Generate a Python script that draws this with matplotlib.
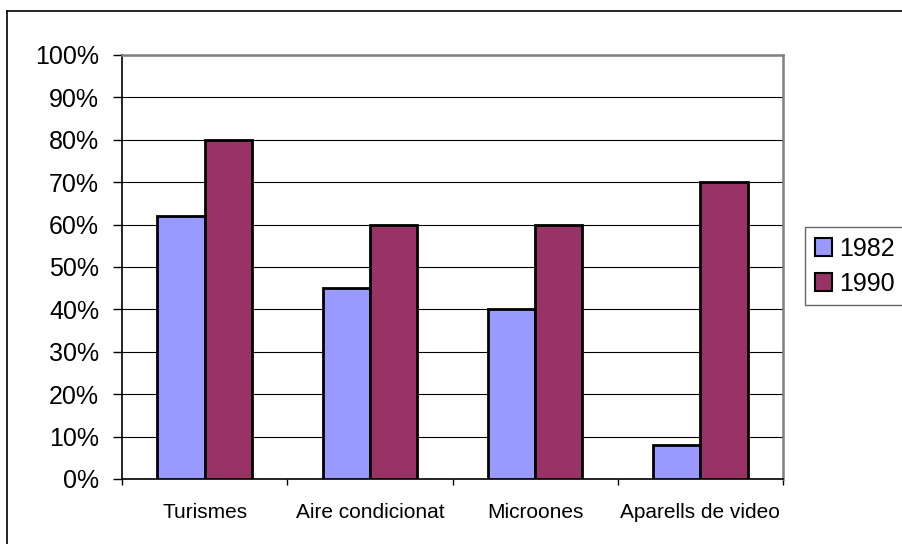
import numpy as np
import matplotlib.pyplot as plt
from matplotlib.lines import Line2D

plt.rcParams['font.family'] = ['Liberation Sans', 'DejaVu Sans']

categories = ["Turismes", "Aire condicionat", "Microones", "Aparells de video"]
years = ["1982", "1990"]
values_1982 = [62, 45, 40, 8]
values_1990 = [80, 60, 60, 70]
colors = ["#9999FF", "#993366"]

fig = plt.figure(figsize=(9.02, 5.44), dpi=100)
ax = fig.add_axes([122 / 902, 65 / 544, 661 / 902, 424 / 544])

x = np.arange(len(categories))
width = 1 / 3.5
ax.bar(x - width / 2, values_1982, width, color=colors[0], edgecolor="black",
       linewidth=2.0, label=years[0], zorder=3)
ax.bar(x + width / 2, values_1990, width, color=colors[1], edgecolor="black",
       linewidth=2.0, label=years[1], zorder=3)

ax.set_xlim(-0.5, len(categories) - 0.5)
ax.set_ylim(0, 100)
ax.set_yticks(np.arange(0, 101, 10))
ax.set_yticklabels([f"{v}%" for v in range(0, 101, 10)], fontsize=18)
ax.yaxis.grid(True, color="black", linewidth=0.8, zorder=0)

ax.set_xticks(x)
ax.set_xticklabels(categories, fontsize=15)
ax.set_xticks(np.arange(-0.5, len(categories), 1), minor=True)
ax.tick_params(axis="x", which="major", length=0, pad=17)
ax.tick_params(axis="x", which="minor", length=4.5, width=1, direction="out")
ax.tick_params(axis="y", length=6.5, width=1, pad=10)

for side in ["left", "bottom"]:
    ax.spines[side].set_color("black")
    ax.spines[side].set_linewidth(1.2)
for side in ["top", "right"]:
    ax.spines[side].set_color("#808080")
    ax.spines[side].set_linewidth(1.8)

leg = fig.legend(loc="upper left", bbox_to_anchor=(805 / 902, 1 - 227 / 544),
                 fontsize=18, frameon=True, fancybox=False, handlelength=0.7,
                 handleheight=0.7, handletextpad=0.3, borderpad=0.38,
                 labelspacing=0.45, borderaxespad=0)
leg.get_frame().set_edgecolor("#404040")
leg.get_frame().set_linewidth(1.0)
for handle in leg.legend_handles:
    handle.set_linewidth(1.5)

# outer chart border
fig.add_artist(Line2D([7.5 / 902, 7.5 / 902], [0, 1 - 11 / 544], color="black", linewidth=1.2))
fig.add_artist(Line2D([7.5 / 902, 1], [1 - 11 / 544, 1 - 11 / 544], color="black", linewidth=1.2))

fig.savefig("out.png", dpi=100)
